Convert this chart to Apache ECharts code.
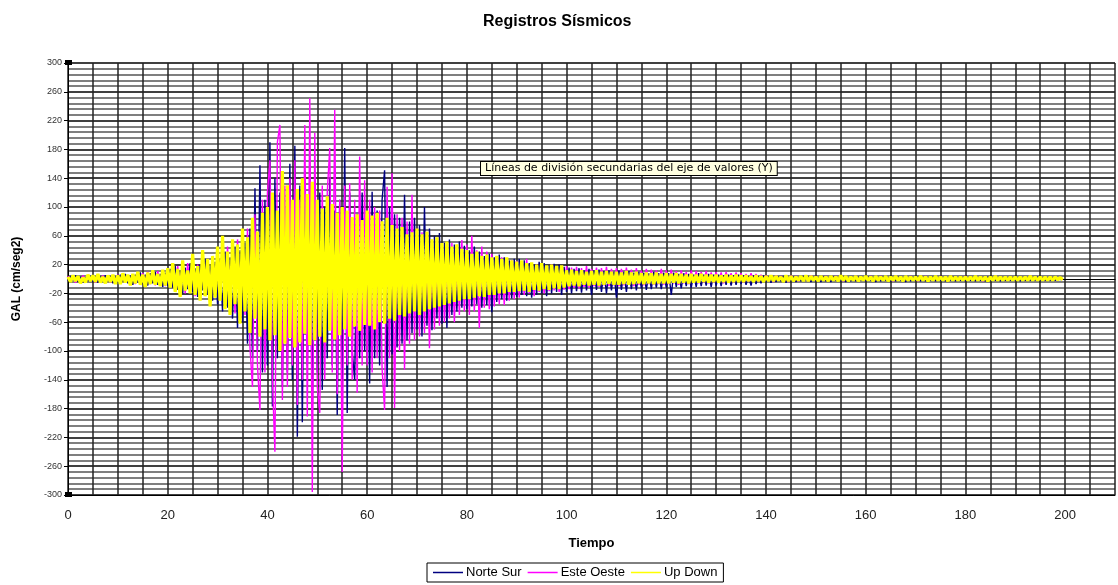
<!DOCTYPE html>
<html>
<head>
<meta charset="utf-8">
<title>Registros Sísmicos</title>
<script src="https://cdn.jsdelivr.net/npm/echarts@6/dist/echarts.min.js"></script>
<style>
  html, body { margin: 0; padding: 0; background: #fff; }
  #chart { width: 1118px; height: 585px; }
</style>
</head>
<body>
<div id="chart"></div>
<script>
// muestreo cada 0.5 s, de 0 a 199.5 s
const dt = 0.5

// Norte Sur (cm/seg2)
const norteSur = [
  -3,4,-2,5,-4,3,-5,2,-3,4,-4,3,-5,4,-2,5,-3,4,-6,3,
  -5,6,-4,7,-6,5,-8,6,-5,9,-7,6,-9,8,-6,10,-8,7,-11,9,
  -10,14,-12,18,-15,12,-20,16,-14,22,-18,15,-25,20,-16,28,-22,18,-30,24,
  -35,28,-45,38,-40,30,-55,45,-68,40,-60,50,-90,70,-110,126,-100,158,-130,110,
  -120,190,-177,140,-110,120,-150,100,-130,160,-140,185,-219,130,-199,150,-120,110,-185,140,
  -130,120,-154,100,-110,140,-120,95,-189,110,-140,182,-186,120,-100,-140,90,-110,120,-100,
  90,-145,121,-110,95,-120,110,151,-150,100,-105,90,-95,85,-90,117,-85,80,-75,85,
  -70,75,-80,100,-65,70,-71,60,-55,64,-62,50,-68,55,-50,48,-45,52,-40,46,
  -42,40,-38,45,-35,38,-40,32,-36,35,-46,30,-32,34,-28,30,-30,26,-27,28,
  -25,28,-22,26,-24,22,-26,20,-22,24,-20,22,-24,18,-20,21,-18,20,-22,17,
  -18,16,-20,14,-17,15,-19,12,-16,14,-22,12,-15,13,-18,11,-20,12,-16,10,
  -26,12,-15,10,-18,11,-14,9,-16,10,-13,9,-15,8,-14,10,-12,8,-14,9,
  -12,8,-22,9,-11,7,-13,8,-10,7,-12,6,-11,8,-10,6,-9,7,-11,6,
  -9,6,-10,5,-8,6,-9,5,-8,6,-7,5,-8,4,-9,5,-7,4,-6,5,
  -4,3,-5,2,-4,3,-3,4,-5,2,-3,3,-4,2,-3,4,-2,3,-4,2,
  -3,2,-4,3,-3,2,-4,3,-2,2,-3,3,-4,2,-3,2,-3,3,-2,2,
  -3,3,-2,2,-4,2,-3,3,-2,2,-3,2,-3,3,-2,2,-4,2,-3,2,
  -2,3,-3,2,-3,2,-2,3,-3,2,-2,2,-3,2,-2,3,-3,2,-2,2,
  -3,2,-2,2,-3,2,-2,2,-3,3,-2,2,-2,2,-3,2,-2,2,-2,2,
  -2,2,-3,2,-2,2,-2,2,-2,3,-2,2,-2,2,-2,2,-2,1,-1,1
]

// Este Oeste (cm/seg2)
const esteOeste = [
  4,-3,3,-5,2,-4,5,-3,4,-2,3,-5,4,-3,5,-4,2,-5,4,-3,
  6,-5,7,-4,5,-8,6,-7,9,-5,8,-6,10,-7,8,-9,11,-6,9,-10,
  12,-10,16,-14,18,-12,14,-20,22,-15,18,-24,20,-18,26,-22,24,-28,30,-20,
  32,-28,40,-35,45,-30,38,-48,55,-40,62,-50,70,-95,-150,90,-120,-182,110,-130,
  120,165,-140,-240,190,214,-168,130,-150,140,-120,165,-175,110,-140,214,-191,251,-296,203,
  -150,-186,130,-140,120,182,-130,235,-160,110,-268,130,-120,133,-140,110,-158,170,-120,137,
  -120,110,-130,100,-110,95,-125,-182,128,-110,147,-179,90,-100,85,-126,80,-90,117,-85,
  70,-80,65,-75,60,-96,55,-70,50,-65,48,-60,45,-55,50,-60,42,-50,54,-45,
  48,-50,60,-45,40,-68,45,-40,38,-42,35,-38,32,-35,30,-36,28,-30,26,-28,
  25,-26,24,-22,28,-20,22,-24,20,-18,22,-20,18,-17,20,-16,18,-18,16,-15,
  18,-14,16,-12,17,-13,15,-11,18,-12,14,-10,16,-11,15,-9,17,-10,14,-9,
  15,-10,14,-9,16,-8,13,-10,15,-8,12,-9,14,-7,13,-8,12,-7,14,-8,
  12,-7,13,-6,11,-8,12,-6,10,-7,12,-5,11,-6,10,-5,11,-6,9,-5,
  10,-5,9,-6,10,-4,8,-5,9,-4,8,-5,7,-4,8,-3,7,-4,6,-3,
  5,-3,4,-4,5,-2,4,-3,3,-4,5,-2,4,-3,3,-2,4,-3,5,-2,
  4,-3,3,-2,4,-3,3,-2,4,-2,3,-3,4,-2,3,-2,4,-3,3,-2,
  3,-2,4,-3,3,-2,4,-2,3,-2,3,-3,4,-2,3,-2,3,-2,4,-2,
  3,-3,3,-2,4,-2,3,-2,3,-2,4,-2,3,-3,3,-2,3,-2,3,-2,
  4,-2,3,-2,3,-2,3,-3,3,-2,3,-2,4,-2,3,-2,3,-2,3,-2,
  3,-2,3,-2,3,-2,3,-2,3,-2,3,-2,3,-2,2,-2,3,-1,2,-1
]

// Up Down (cm/seg2)
const upDown = [
  3,-4,5,-3,4,-6,2,-5,6,-3,5,-4,7,-5,3,-6,5,-4,6,-7,
  5,-7,8,-5,6,-9,7,-6,10,-8,6,-11,9,-7,12,-8,7,-10,13,-9,
  15,-12,22,-18,14,-25,26,-16,12,-20,35,-22,18,-30,40,-24,28,-38,32,-26,
  45,-30,60,-42,38,-50,55,-35,48,-62,70,-45,58,-75,85,-55,66,-80,92,-70,
  100,-85,120,-78,95,-100,150,-90,130,-82,110,-95,125,-88,140,-76,118,-92,135,-85,
  110,-80,98,-88,115,-72,104,-84,92,-78,100,-70,95,-80,86,-66,90,-72,82,-64,
  95,-65,88,-70,92,-60,80,-62,85,-55,75,-58,70,-50,72,-52,62,-48,65,-45,
  70,-50,62,-45,66,-42,55,-40,58,-38,50,-36,52,-34,45,-32,48,-30,42,-28,
  40,-28,35,-26,38,-24,32,-25,34,-22,30,-22,32,-20,28,-20,30,-18,26,-18,
  24,-17,26,-16,22,-18,23,-15,20,-16,22,-14,19,-15,20,-13,18,-14,19,-12,
  12,-10,13,-9,11,-10,12,-8,10,-9,11,-8,12,-9,10,-8,11,-7,10,-8,
  10,-8,9,-7,11,-8,9,-7,10,-6,8,-7,9,-6,8,-7,9,-6,7,-6,
  8,-6,7,-5,8,-6,7,-5,6,-6,7,-5,6,-5,7,-4,6,-5,6,-4,
  6,-5,5,-4,6,-5,5,-4,6,-4,5,-4,5,-3,4,-4,5,-3,4,-4,
  4,-3,5,-3,4,-2,3,-4,5,-3,4,-3,3,-2,4,-3,5,-3,4,-2,
  3,-3,4,-2,3,-3,4,-2,3,-3,5,-2,4,-3,3,-2,4,-3,3,-2,
  4,-2,3,-3,4,-2,3,-2,4,-3,3,-2,4,-2,3,-3,4,-2,3,-2,
  3,-2,4,-2,3,-3,3,-2,4,-2,3,-2,3,-3,4,-2,3,-2,3,-2,
  3,-2,3,-2,4,-2,3,-2,3,-3,3,-2,4,-2,3,-2,3,-2,3,-2,
  3,-2,3,-2,3,-2,4,-2,3,-2,3,-2,3,-2,3,-2,3,-1,2,-1
]

const seriesNames = ['Norte Sur', 'Este Oeste', 'Up Down']
const seriesColors = ['#000080', '#ff00ff', '#ffff00']
const seriesWidths = [1.4, 1.4, 3.2]

function toPoints(arr) {
  return arr.map((v, i) => [i * dt, v])
}

const font = 'Liberation Sans, Arial, sans-serif'
const chart = echarts.init(document.getElementById('chart'))

const series = [norteSur, esteOeste, upDown].map((arr, k) => ({
  name: seriesNames[k],
  type: 'line',
  symbol: 'none',
  lineStyle: { width: seriesWidths[k], color: seriesColors[k] },
  itemStyle: { color: seriesColors[k] },
  data: toPoints(arr)
}))

chart.setOption({
  animation: false,
  backgroundColor: '#fff',
  title: {
    text: 'Registros Sísmicos',
    left: 478,
    top: 9,
    textStyle: { fontFamily: font, fontSize: 16, fontWeight: 'bold', color: '#000' }
  },
  legend: {
    data: seriesNames,
    icon: 'rect',
    left: 427,
    bottom: 3,
    itemWidth: 30,
    itemHeight: 1.5,
    itemGap: 6,
    padding: [3, 6],
    borderColor: '#000',
    borderWidth: 1,
    textStyle: { fontFamily: font, fontSize: 13, color: '#000', padding: [0, 0, 0, -2] }
  },
  grid: { left: 68, right: 0, top: 63, bottom: 90 },
  xAxis: [
    {
      type: 'value',
      min: 0,
      max: 210,
      interval: 5,
      name: 'Tiempo',
      nameLocation: 'middle',
      nameGap: 42,
      nameTextStyle: { fontFamily: font, fontSize: 13, fontWeight: 'bold', color: '#000' },
      axisLine: { onZero: false, lineStyle: { color: '#000', width: 1 } },
      axisTick: { show: false },
      axisLabel: {
        margin: 14,
        fontFamily: font,
        fontSize: 13,
        color: '#222',
        formatter: v => (v % 20 === 0 ? v : '')
      },
      splitLine: { show: true, lineStyle: { color: '#222', width: 1.5 } }
    },
    {
      // línea del eje de categorías cruzando en cero
      type: 'value',
      min: 0,
      max: 210,
      position: 'bottom',
      axisLine: { show: true, onZero: true, lineStyle: { color: '#000', width: 1 } },
      axisTick: { show: false },
      axisLabel: { show: false },
      splitLine: { show: false }
    }
  ],
  yAxis: {
    type: 'value',
    min: -300,
    max: 300,
    interval: 40,
    name: 'GAL (cm/seg2)',
    nameLocation: 'middle',
    nameGap: 45,
    nameTextStyle: { fontFamily: font, fontSize: 12, fontWeight: 'bold', color: '#000' },
    axisLine: { show: true, lineStyle: { color: '#000', width: 1 } },
    axisTick: { show: true, inside: false, length: 4, lineStyle: { color: '#000' } },
    axisLabel: { margin: 6, fontFamily: font, fontSize: 9, color: '#333' },
    splitLine: { show: true, lineStyle: { color: '#000', width: 1.5 } },
    minorTick: { show: false, splitNumber: 5 },
    minorSplitLine: { show: true, lineStyle: { color: '#555', width: 1.5 } }
  },
  series: series,
  graphic: [
    // marcas de selección de Excel en el eje Y
    { type: 'rect', left: 65, top: 60, shape: { width: 7, height: 5 }, style: { fill: '#000' }, z: 100 },
    { type: 'rect', left: 65, top: 492, shape: { width: 7, height: 5 }, style: { fill: '#000' }, z: 100 },
    {
      type: 'text',
      left: 480,
      top: 161,
      z: 100,
      style: {
        text: 'Líneas de división secundarias del eje de valores (Y)',
        fontFamily: 'DejaVu Sans, sans-serif',
        fontSize: 11,
        fill: '#000',
        backgroundColor: '#ffffe1',
        borderColor: '#000',
        borderWidth: 1,
        padding: [1, 4]
      }
    }
  ]
})
</script>
</body>
</html>
